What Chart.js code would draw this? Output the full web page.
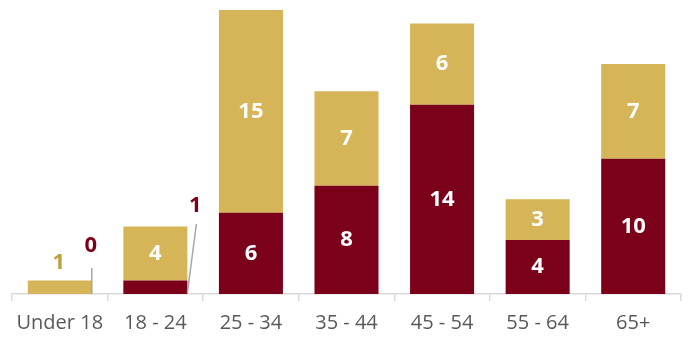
<!DOCTYPE html>
<html><head><meta charset="utf-8">
<script src="https://cdn.jsdelivr.net/npm/chart.js@4.4.0/dist/chart.umd.min.js"></script>
<style>html,body{margin:0;padding:0;background:#fff}#wrap{width:689px;height:337px}</style>
</head><body><div id="wrap"><canvas id="c" width="689" height="337"></canvas></div>
<script>
const categories = ["Under 18","18 - 24","25 - 34","35 - 44","45 - 54","55 - 64","65+"];
const seriesRed = [0,1,6,8,14,4,10];
const seriesGold = [1,4,15,7,6,3,7];
const RED = "#7B0019", GOLD = "#D5B557";

const labelPlugin = {
  id: "labels",
  afterDatasetsDraw(chart) {
    const ctx = chart.ctx;
    ctx.save();
    ctx.font = "bold 22px 'Open Sans'";
    ctx.textAlign = "center";
    ctx.textBaseline = "middle";
    chart.data.datasets.forEach((ds, di) => {
      const meta = chart.getDatasetMeta(di);
      meta.data.forEach((bar, i) => {
        const v = ds.data[i];
        const h = Math.abs(bar.base - bar.y);
        const right = bar.x + bar.width / 2;
        if (h >= 25) {
          ctx.fillStyle = "#fff";
          ctx.fillText(String(v), bar.x, (bar.y + bar.base) / 2);
        } else if (di === 1) {
          ctx.fillStyle = "#BF9F3A";
          ctx.fillText(String(v), bar.x - 1, bar.y - 18);
        } else if (v === 0) {
          ctx.strokeStyle = "#A6A6A6"; ctx.lineWidth = 1.5;
          ctx.beginPath(); ctx.moveTo(right, bar.base); ctx.lineTo(right, bar.base - 26); ctx.stroke();
          ctx.fillStyle = RED;
          ctx.fillText(String(v), right - 1, bar.base - 48);
        } else {
          ctx.strokeStyle = "#A6A6A6"; ctx.lineWidth = 1.5;
          ctx.beginPath(); ctx.moveTo(right, bar.base - 1); ctx.lineTo(right + 9, bar.base - 70); ctx.stroke();
          ctx.fillStyle = RED;
          ctx.fillText(String(v), right + 8, bar.base - 88);
        }
      });
    });
    ctx.restore();
  }
};

new Chart(document.getElementById("c"), {
  type: "bar",
  data: {
    labels: categories,
    datasets: [
      { data: seriesRed, backgroundColor: RED, categoryPercentage: 1, barPercentage: 0.67 },
      { data: seriesGold, backgroundColor: GOLD, categoryPercentage: 1, barPercentage: 0.67 }
    ]
  },
  options: {
    responsive: false, animation: false,
    layout: { padding: { left: 12, right: 8, top: 10, bottom: 0 } },
    plugins: { legend: { display: false }, tooltip: { enabled: false } },
    scales: {
      x: {
        stacked: true,
        afterFit(scale) { scale.height = 43; },
        grid: { drawOnChartArea: false, drawTicks: true, tickLength: 7, color: "#D9D9D9", lineWidth: 1.5, offset: true },
        border: { color: "#D9D9D9", width: 1.5 },
        ticks: { color: "#595959", font: { family: "'Open Sans'", size: 20, lineHeight: 1.0 }, padding: 12, maxRotation: 0 }
      },
      y: { stacked: true, display: false, min: 0, max: 21 }
    }
  },
  plugins: [labelPlugin]
});
</script></body></html>
